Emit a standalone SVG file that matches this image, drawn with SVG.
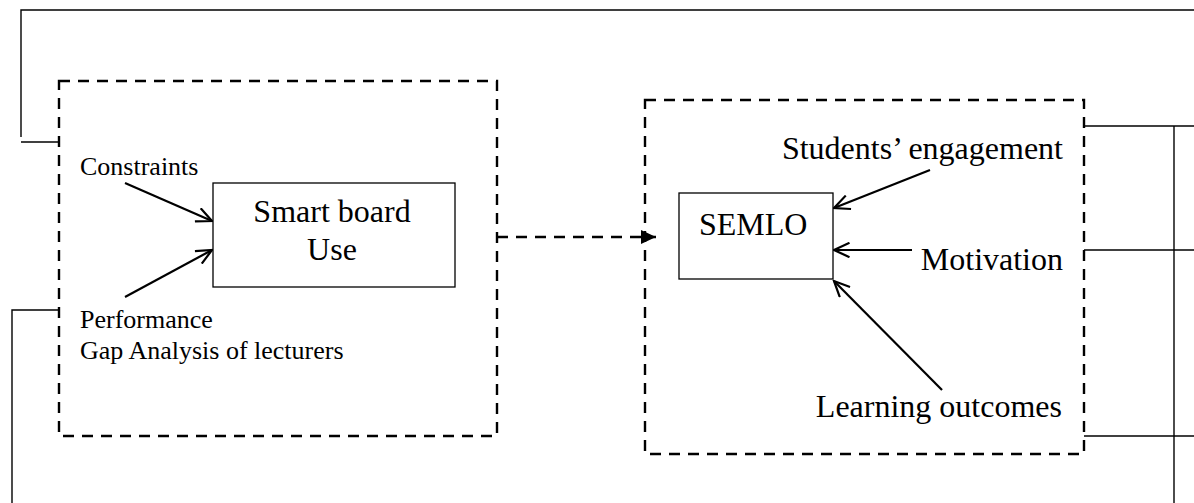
<svg xmlns="http://www.w3.org/2000/svg" width="1194" height="503" viewBox="0 0 1194 503">
<style>
text{font-family:"Liberation Serif","Times New Roman",serif;fill:#000}
.small{font-size:26px}
.big{font-size:32px}
.dash{fill:none;stroke:#000;stroke-width:2.4;stroke-dasharray:11,8}
.box{fill:#fff;stroke:#000;stroke-width:1.3}
.link{fill:none;stroke:#000;stroke-width:1.4}
.arr{fill:none;stroke:#000;stroke-width:2.2;marker-end:url(#open)}
</style>
<defs>
<marker id="open" viewBox="0 0 18 16" refX="16.5" refY="8" markerWidth="18" markerHeight="16" markerUnits="userSpaceOnUse" orient="auto">
<path d="M1,0.8 L16.5,8 L1,15.2" fill="none" stroke="#000" stroke-width="2.2"/>
</marker>
<marker id="solid" viewBox="0 0 15 14" refX="15" refY="7" markerWidth="15" markerHeight="14" markerUnits="userSpaceOnUse" orient="auto">
<path d="M0,0 L15,7 L0,14 Z" fill="#000"/>
</marker>
</defs>
<rect width="1194" height="503" fill="#fff"/>
<g id="connectors">
<polyline class="link" stroke="#444" points="21,137 21,10 1194,10"/>
<line class="link" x1="21" y1="142" x2="59" y2="142"/>
<polyline class="link" points="12,503 12,310 59,310"/>
<line class="link" x1="1084" y1="126" x2="1194" y2="126"/>
<line class="link" x1="1084" y1="250" x2="1194" y2="250"/>
<line class="link" x1="1084" y1="436" x2="1194" y2="436"/>
<line class="link" x1="1174" y1="126" x2="1174" y2="503"/>
<line class="dash" x1="497" y1="237" x2="656" y2="237" marker-end="url(#solid)"/>
</g>
<g id="left-group">
<rect class="dash" x="59" y="81" width="438" height="355"/>
<text class="small" x="80" y="175">Constraints</text>
<text class="small" x="80" y="328">Performance</text>
<text class="small" x="80" y="359">Gap Analysis of lecturers</text>
<line class="arr" x1="125" y1="183" x2="212" y2="221"/>
<line class="arr" x1="125" y1="297" x2="212" y2="250"/>
</g>
<g id="smart-board">
<rect class="box" x="213" y="183" width="242" height="104"/>
<text class="big" x="332" y="222" text-anchor="middle">Smart board</text>
<text class="big" x="332" y="260" text-anchor="middle">Use</text>
</g>
<g id="right-group">
<rect class="dash" x="645" y="100" width="439" height="354"/>
<text class="big" x="1063" y="159" text-anchor="end">Students’ engagement</text>
<text class="big" x="1063" y="270" text-anchor="end">Motivation</text>
<text class="big" x="1062" y="417" text-anchor="end">Learning outcomes</text>
<line class="arr" x1="930" y1="170" x2="834" y2="208"/>
<line class="arr" x1="912" y1="250" x2="834" y2="250"/>
<line class="arr" x1="942" y1="390" x2="834" y2="281"/>
</g>
<g id="semlo">
<rect class="box" x="679" y="193" width="154" height="86"/>
<text class="big" x="699" y="235">SEMLO</text>
</g>
</svg>
